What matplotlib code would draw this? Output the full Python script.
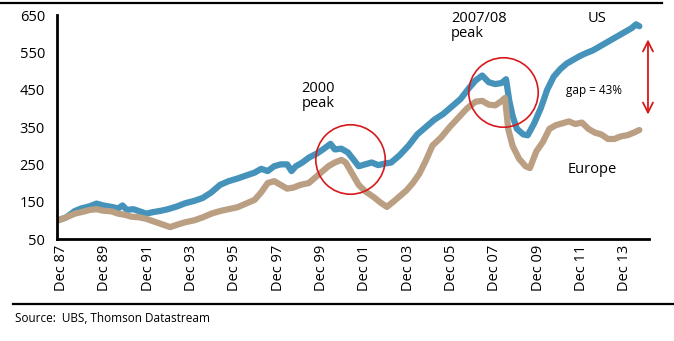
import numpy as np
import matplotlib.pyplot as plt
import matplotlib
from matplotlib.lines import Line2D

matplotlib.rcParams['font.family'] = ['Open Sans', 'DejaVu Sans']

# decimal years and index levels (Dec 1987 = 100)
us_t = [1987.92, 1988.3, 1988.7, 1989.0, 1989.4, 1989.7, 1990.0, 1990.4, 1990.7, 1990.9,
        1991.1, 1991.4, 1991.7, 1992.0, 1992.3, 1992.7, 1993.0, 1993.4, 1993.8, 1994.2,
        1994.6, 1995.0, 1995.4, 1995.8, 1996.2, 1996.6, 1997.0, 1997.3, 1997.6, 1997.9,
        1998.2, 1998.5, 1998.7, 1998.9, 1999.2, 1999.5, 1999.9, 2000.2, 2000.5, 2000.7,
        2001.0, 2001.3, 2001.6, 2001.8, 2002.1, 2002.4, 2002.7, 2003.0, 2003.3, 2003.7,
        2004.1, 2004.5, 2004.9, 2005.3, 2005.7, 2006.1, 2006.5, 2006.9, 2007.2, 2007.5,
        2007.8, 2008.1, 2008.4, 2008.6, 2008.75, 2008.9, 2009.1, 2009.4, 2009.6, 2009.9,
        2010.2, 2010.5, 2010.8, 2011.1, 2011.4, 2011.7, 2012.0, 2012.3, 2012.6, 2012.9,
        2013.2, 2013.5, 2013.8, 2014.1, 2014.4, 2014.6, 2014.75]
us_v = [100, 108, 125, 132, 138, 145, 140, 136, 132, 140,
        128, 130, 124, 118, 122, 126, 130, 137, 146, 152,
        160, 175, 195, 205, 212, 220, 228, 238, 232, 245,
        250, 250, 232, 245, 255, 268, 280, 292, 305, 290,
        292, 282, 260, 245, 250, 255, 248, 252, 255, 275,
        300, 330, 350, 370, 385, 405, 425, 455, 475, 488,
        470, 465, 468, 478, 420, 380, 345, 330, 328, 360,
        400, 450, 485, 505, 520, 530, 540, 548, 555, 565,
        575, 585, 595, 605, 615, 625, 620]

eu_t = [1987.92, 1988.3, 1988.7, 1989.0, 1989.4, 1989.7, 1990.0, 1990.4, 1990.7, 1991.0,
        1991.3, 1991.7, 1992.0, 1992.4, 1992.8, 1993.1, 1993.4, 1993.8, 1994.2, 1994.6,
        1995.0, 1995.4, 1995.8, 1996.2, 1996.6, 1997.0, 1997.3, 1997.6, 1997.9, 1998.2,
        1998.5, 1998.8, 1999.1, 1999.5, 1999.8, 2000.1, 2000.4, 2000.7, 2001.0, 2001.2,
        2001.5, 2001.8, 2002.1, 2002.5, 2002.8, 2003.1, 2003.4, 2003.7, 2004.0, 2004.3,
        2004.6, 2004.9, 2005.2, 2005.6, 2006.0, 2006.4, 2006.8, 2007.2, 2007.5, 2007.8,
        2008.1, 2008.4, 2008.55, 2008.7, 2008.9, 2009.2, 2009.5, 2009.7, 2010.0, 2010.3,
        2010.6, 2010.9, 2011.2, 2011.5, 2011.8, 2012.1, 2012.4, 2012.7, 2013.0, 2013.3,
        2013.6, 2013.9, 2014.2, 2014.5, 2014.75]
eu_v = [100, 108, 118, 122, 128, 130, 126, 124, 118, 115,
        110, 108, 104, 96, 88, 82, 88, 95, 100, 108,
        118, 125, 130, 135, 145, 155, 175, 200, 205, 195,
        185, 188, 195, 200, 215, 230, 245, 255, 262, 255,
        225, 195, 178, 162, 148, 136, 150, 165, 180, 200,
        225, 260, 300, 322, 350, 375, 400, 418, 420, 410,
        408, 420, 428, 345, 300, 265, 245, 240, 285, 310,
        345, 355, 360, 365, 358, 362, 345, 335, 330, 318,
        318, 325, 328, 335, 342]

tick_labels = ['Dec 87', 'Dec 89', 'Dec 91', 'Dec 93', 'Dec 95', 'Dec 97', 'Dec 99',
               'Dec 01', 'Dec 03', 'Dec 05', 'Dec 07', 'Dec 09', 'Dec 11', 'Dec 13']
y_ticks = [50, 150, 250, 350, 450, 550, 650]

blue = '#4592bb'
tan = '#bb9f83'
red = '#d7191c'

fig = plt.figure(figsize=(6.74, 3.41), dpi=100)
ax = fig.add_axes([0.0853, 0.299, 0.8777, 0.657])

ax.plot(us_t, us_v, color=blue, lw=4.5, solid_capstyle='round', solid_joinstyle='round')
ax.plot(eu_t, eu_v, color=tan, lw=4.5, solid_capstyle='round', solid_joinstyle='round')

# peak circles
ax.plot([2001.4], [264], 'o', ms=50, mfc='none', mec=red, mew=1.2)
ax.plot([2008.45], [444], 'o', ms=50, mfc='none', mec=red, mew=1.2)

# gap arrow
ax.annotate('', xy=(2015.15, 592), xytext=(2015.15, 376),
            arrowprops=dict(arrowstyle='<->', color=red, lw=1.3, mutation_scale=18),
            annotation_clip=False)

ax.text(1999.15, 474, '2000\npeak', fontsize=10.5, va='top', ha='left', linespacing=1.05)
ax.text(2006.05, 662, '2007/08\npeak', fontsize=10.5, va='top', ha='left', linespacing=1.05)
ax.text(2012.36, 662, 'US', fontsize=10.5, va='top', ha='left')
ax.text(2011.35, 449, 'gap = 43%', fontsize=8.5, va='center', ha='left')
ax.text(2011.45, 235, 'Europe', fontsize=10.5, va='center', ha='left')

ax.set_xlim(1987.9, 2015.2)
ax.set_ylim(50, 650)
ax.set_xticks([1988.08 + 2 * k for k in range(len(tick_labels))])
ax.set_xticklabels(tick_labels, rotation=90, fontsize=10.5)
ax.set_yticks(y_ticks)
ax.set_yticklabels([str(v) for v in y_ticks], fontsize=10.5)
ax.tick_params(length=0, pad=9)
ax.tick_params(axis='x', pad=4)
for s in ['top', 'right']:
    ax.spines[s].set_visible(False)
for s in ['left', 'bottom']:
    ax.spines[s].set_linewidth(2)

# header and footer rules
fig.add_artist(Line2D([0.0, 0.982], [0.991, 0.991], color='black', lw=1.6))
fig.add_artist(Line2D([0.02, 1.0], [0.108, 0.108], color='black', lw=1.6))
fig.text(0.022, 0.067, 'Source:  UBS, Thomson Datastream', fontsize=8.5, va='center', ha='left')

plt.savefig('out.png', dpi=100)
plt.close()
